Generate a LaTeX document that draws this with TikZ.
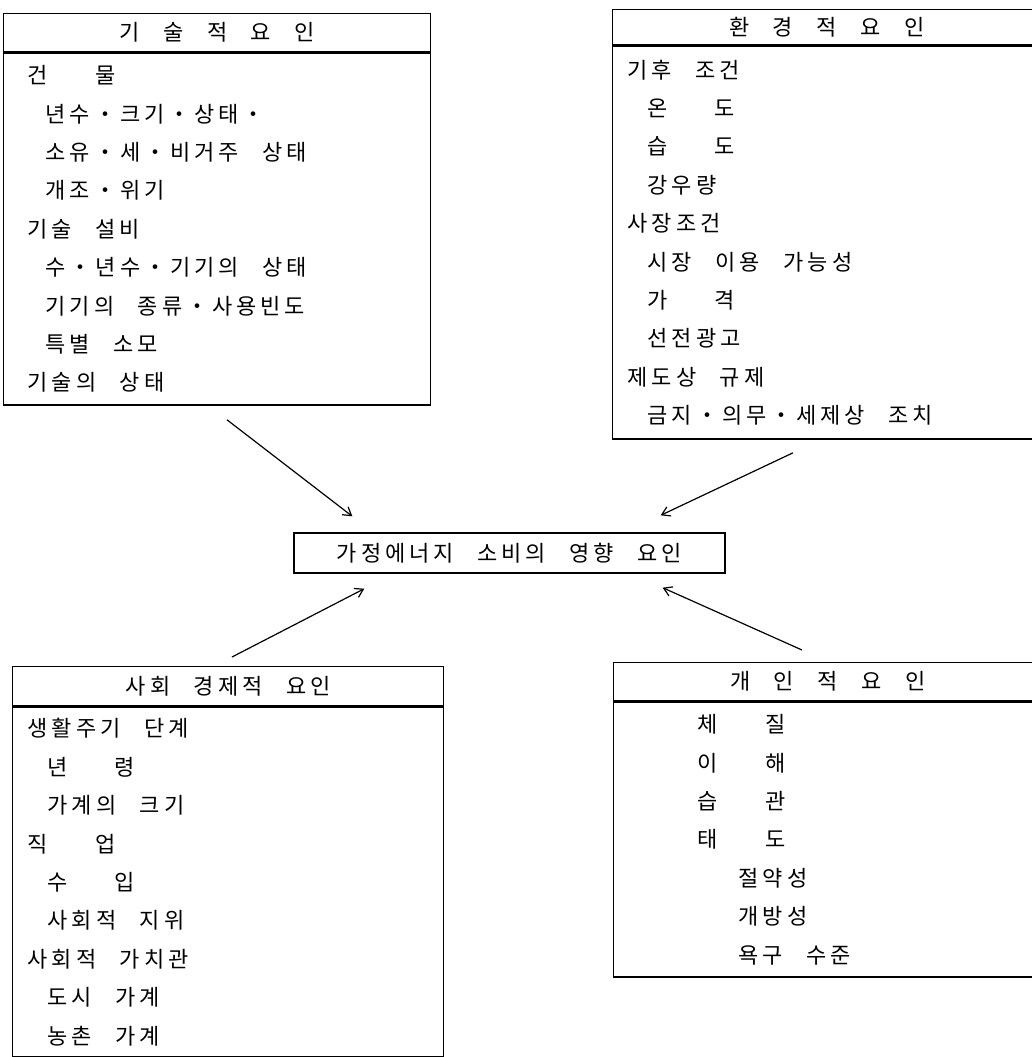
\documentclass[tikz,border=0pt]{standalone}
\usepackage{fontspec}
\newfontfamily\kr[LetterSpace=18]{Noto Sans CJK KR}
\usetikzlibrary{positioning, arrows.meta, calc}
\newcommand\ind[1][10pt]{\hspace*{#1}}
\tikzset{
  kfont/.style={font={\kr\fontsize{11pt}{19.2pt}\selectfont},
    execute at begin node={\spaceskip=1.07em\relax}},
  head/.style={draw, line width=.7pt, inner sep=0pt, anchor=north west},
  body/.style={draw, line width=.7pt, align=left, inner ysep=2pt, below=0pt of #1},
  flow/.style={line width=.6pt, -{Straight Barb[length=4pt,width=5pt]}}
}

\begin{document}
\begin{tikzpicture}[x=0.5pt, y=-0.5pt, every node/.style={kfont}]
  \useasboundingbox (0,0) rectangle (1032,1057);

  \node[head, minimum width=213.5pt, minimum height=19pt] (tech-h) at (3,13) {기 술 적 요 인};
  \node[body=tech-h, text width=189.5pt, inner xsep=12pt, minimum height=176pt] (tech) {%
    건~~물\\
    \ind[9pt]년수・크기・상태・\\
    \ind[9pt]소유・세・비거주 상태\\
    \ind[9pt]개조・위기\\
    기술 설비\\
    \ind[9pt]수・년수・기기의 상태\\
    \ind[9pt]기기의 종류・사용빈도\\
    \ind[9pt]특별 소모\\
    기술의 상태};

  \node[head, minimum width=214pt, minimum height=17.5pt] (env-h) at (612,9) {환 경 적 요 인};
  \node[body=env-h, text width=199pt, inner xsep=7.5pt, minimum height=196.5pt] (env) {%
    기후 조건\\
    \ind 온~~도\\
    \ind 습~~도\\
    \ind 강우량\\
    사장조건\\
    \ind 시장 이용 가능성\\
    \ind 가~~격\\
    \ind 선전광고\\
    제도상 규제\\
    \ind 금지・의무・세제상 조치};

  \node[draw, line width=.7pt, minimum width=215.5pt, minimum height=20pt, inner sep=0pt] (hub) at (509.5,553) {가정에너지 소비의 영향 요인};

  \node[head, minimum width=215.5pt, minimum height=19.5pt] (soc-h) at (12,666) {사회 경제적 요인};
  \node[body=soc-h, text width=200.5pt, inner xsep=7.5pt, minimum height=175pt] (soc) {%
    생활주기 단계\\
    \ind 년~~령\\
    \ind 가계의 크기\\
    직~~업\\
    \ind 수~~입\\
    \ind 사회적 지위\\
    사회적 가치관\\
    \ind 도시 가계\\
    \ind 농촌 가계};

  \node[head, minimum width=214pt, minimum height=19pt] (pers-h) at (613,662) {개 인 적 요 인};
  \node[body=pers-h, text width=130pt, inner xsep=42pt, minimum height=137.5pt] (pers) {%
    체~~질\\
    이~~해\\
    습~~관\\
    태~~도\\
    \ind[20.5pt]절약성\\
    \ind[20.5pt]개방성\\
    \ind[20.5pt]욕구 수준};

  \draw[flow] ([shift={(224,14)}]tech.south west) -- ([shift={(59,-16)}]hub.north west);
  \draw[flow] ([shift={(181,13)}]env.south west) -- ([shift={(-65,-17)}]hub.north east);
  \draw[flow] ([shift={(220,-9)}]soc-h.north west) -- ([shift={(71,15)}]hub.south west);
  \draw[flow] ([shift={(189,-12)}]pers-h.north west) -- ([shift={(-63,14)}]hub.south east);
\end{tikzpicture}
\end{document}
